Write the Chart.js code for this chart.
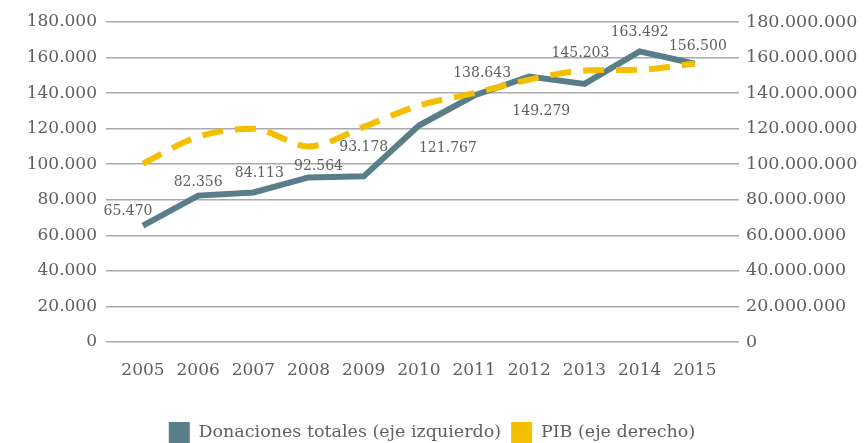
<!DOCTYPE html>
<html>
<head>
<meta charset="utf-8">
<script src="https://cdn.jsdelivr.net/npm/chart.js@4.4.0/dist/chart.umd.min.js"></script>
<style>
  html, body { margin: 0; padding: 0; background: #fff; overflow: hidden; }
  #wrap { width: 864px; height: 443px; }
</style>
</head>
<body>
<div id="wrap"><canvas id="chart"></canvas></div>
<script>
// Donaciones totales vs PIB, 2005-2015

const years = [2005, 2006, 2007, 2008, 2009, 2010, 2011, 2012, 2013, 2014, 2015];
const donaciones = [65470, 82356, 84113, 92564, 93178, 121767, 138643, 149279, 145203, 163492, 156500];
const pib = [100300000, 115500000, 120000000, 110000000, 121000000, 133000000, 140000000, 147600000, 152700000, 153200000, 156600000];
const seriesNames = ['Donaciones totales (eje izquierdo)', 'PIB (eje derecho)'];

// where each value label sits relative to its point (px)
const labelOffsets = [[-15, -14], [0, -13], [6, -19], [10, -11], [0, -29], [29, 23],
                      [8, -22], [12, 35], [-4, -31], [0, -19], [3, -17]];

const FONT = '"DejaVu Serif", serif';
const TEXT = '#606060';

function thousands(v) {
    return String(Math.round(v)).replace(/\B(?=(\d{3})+(?!\d))/g, '.');
}

const valueLabels = {
    id: 'valueLabels',
    afterDatasetsDraw(chart) {
        const meta = chart.getDatasetMeta(0);
        const ctx = chart.ctx;
        ctx.save();
        ctx.font = '14px ' + FONT;
        ctx.fillStyle = TEXT;
        ctx.textAlign = 'center';
        ctx.textBaseline = 'middle';
        meta.data.forEach((pt, i) => {
            const off = labelOffsets[i];
            ctx.fillText(thousands(donaciones[i]), pt.x + off[0], pt.y + off[1]);
        });
        ctx.restore();
    }
};

const ctx = document.getElementById('chart').getContext('2d');
new Chart(ctx, {
    type: 'line',
    data: {
        datasets: [{
            label: seriesNames[0],
            data: years.map((y, i) => ({ x: y, y: donaciones[i] })),
            yAxisID: 'y',
            borderColor: '#5a7e89',
            backgroundColor: '#5a7e89',
            borderWidth: 6,
            pointRadius: 0,
            tension: 0,
            order: 2
        }, {
            label: seriesNames[1],
            data: years.map((y, i) => ({ x: y, y: pib[i] })),
            yAxisID: 'y1',
            borderColor: '#f4bf00',
            backgroundColor: '#f4bf00',
            borderWidth: 6,
            borderDash: [21, 12],
            pointRadius: 0,
            cubicInterpolationMode: 'monotone',
            order: 1
        }]
    },
    options: {
        responsive: true,
        maintainAspectRatio: false,
        animation: false,
        layout: { padding: { top: 22, left: 0, right: 0, bottom: -10 } },
        plugins: {
            legend: {
                position: 'bottom',
                sort: (a, b) => a.datasetIndex - b.datasetIndex,
                labels: {
                    boxWidth: 21,
                    boxHeight: 21,
                    padding: 10,
                    color: TEXT,
                    font: { family: FONT, size: 17.5 },
                    generateLabels(chart) {
                        return chart.data.datasets.map((ds, i) => ({
                            text: ds.label,
                            fillStyle: ds.borderColor,
                            strokeStyle: ds.borderColor,
                            lineWidth: 0,
                            fontColor: TEXT,
                            datasetIndex: i
                        }));
                    }
                }
            },
            tooltip: { enabled: false }
        },
        scales: {
            x: {
                type: 'linear',
                min: 2004.33,
                max: 2015.8,
                grid: { display: false },
                border: { display: false },
                afterBuildTicks(axis) {
                    axis.ticks = years.map(v => ({ value: v }));
                },
                afterFit(axis) { axis.height = 70; },
                ticks: {
                    autoSkip: false,
                    maxRotation: 0,
                    padding: 10,
                    color: TEXT,
                    font: { family: FONT, size: 17 },
                    callback: v => String(v)
                }
            },
            y: {
                position: 'left',
                min: 0,
                max: 180000,
                afterFit(axis) { axis.width = 106; },
                grid: { color: '#aaaaaa', lineWidth: 1.5, drawTicks: false },
                border: { display: false },
                ticks: {
                    stepSize: 20000,
                    padding: 9,
                    color: TEXT,
                    font: { family: FONT, size: 17 },
                    callback: v => thousands(v)
                }
            },
            y1: {
                position: 'right',
                min: 0,
                max: 180000000,
                afterFit(axis) { axis.width = 125; },
                grid: { drawOnChartArea: false, drawTicks: false },
                border: { display: false },
                ticks: {
                    stepSize: 20000000,
                    padding: 7,
                    color: TEXT,
                    font: { family: FONT, size: 17.5 },
                    callback: v => thousands(v)
                }
            }
        }
    },
    plugins: [valueLabels]
});
</script>
</body>
</html>
